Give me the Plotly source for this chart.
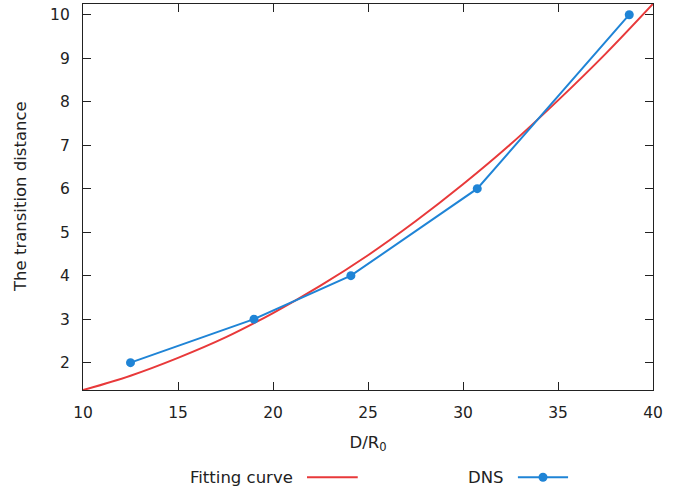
import plotly.graph_objects as go

# DNS data
dns_x = [12.5, 19.0, 24.1, 30.75, 38.75]
dns_y = [2.0, 3.0, 4.0, 6.0, 10.0]

# Fitting curve, values
fit_x = [10, 12.5, 15, 17.5, 20, 22.5, 25, 27.5, 30, 32.5, 35, 37.5, 40]
fit_y = [1.37, 1.70, 2.11, 2.58, 3.14, 3.77, 4.47, 5.25, 6.10, 7.02, 8.03, 9.10, 10.25]

x_ticks = [10, 15, 20, 25, 30, 35, 40]
y_ticks = [2, 3, 4, 5, 6, 7, 8, 9, 10]

RED = "#e8393a"
BLUE = "#1f84d6"
FONT = "DejaVu Sans, sans-serif"
TXT = "#222"

fig = go.Figure()
fig.add_trace(go.Scatter(x=fit_x, y=fit_y, mode="lines", name="Fitting curve",
                         line=dict(color=RED, width=2, shape="spline"),
                         showlegend=False, cliponaxis=True))
fig.add_trace(go.Scatter(x=dns_x, y=dns_y, mode="lines+markers", name="DNS",
                         line=dict(color=BLUE, width=2),
                         marker=dict(color=BLUE, size=9),
                         showlegend=False))

axis_common = dict(showline=True, linecolor=TXT, linewidth=1.2, mirror="ticks",
                   ticks="inside", ticklen=8, tickwidth=1.2, tickcolor=TXT,
                   showgrid=False, zeroline=False, automargin=False,
                   tickfont=dict(family=FONT, size=15.5, color=TXT))

fig.update_xaxes(range=[10, 40], tickvals=x_ticks, ticklabelstandoff=8,
                 title=dict(text="D/R<sub>0</sub>", font=dict(family=FONT, size=16.5, color=TXT)),
                 **axis_common)
fig.update_yaxes(range=[1.372, 10.246], tickvals=y_ticks, ticklabelstandoff=9,
                 **axis_common)

# Y-axis title
fig.add_annotation(xref="paper", yref="paper", x=-0.1105, y=0.5, text="The transition distance",
                   textangle=-90, showarrow=False, xanchor="center", yanchor="middle",
                   font=dict(family=FONT, size=16.5, color=TXT))

# Legend (gnuplot style: label then sample)
ly = -0.226
fig.add_annotation(xref="paper", yref="paper", x=0.372, y=ly, text="Fitting curve",
                   showarrow=False, xanchor="right", yanchor="middle",
                   font=dict(family=FONT, size=16.5, color=TXT))
fig.add_shape(type="line", xref="paper", yref="paper", x0=0.393, x1=0.482, y0=ly, y1=ly,
              line=dict(color=RED, width=2))
fig.add_annotation(xref="paper", yref="paper", x=0.742, y=ly, text="DNS",
                   showarrow=False, xanchor="right", yanchor="middle",
                   font=dict(family=FONT, size=16.5, color=TXT))
fig.add_shape(type="line", xref="paper", yref="paper", x0=0.763, x1=0.851, y0=ly, y1=ly,
              line=dict(color=BLUE, width=2))
fig.add_shape(type="circle", xref="paper", yref="paper",
              x0=0.807 - 4.5/570, x1=0.807 + 4.5/570, y0=ly - 4.5/386, y1=ly + 4.5/386,
              fillcolor=BLUE, line=dict(color=BLUE, width=0))

fig.update_layout(width=688, height=492, margin=dict(l=83, r=35, t=4, b=102),
                  plot_bgcolor="white", paper_bgcolor="white",
                  font=dict(family=FONT, color=TXT))

fig.write_html("out.html", config={"displayModeBar": False},
               post_script="document.body.style.margin='0';")
